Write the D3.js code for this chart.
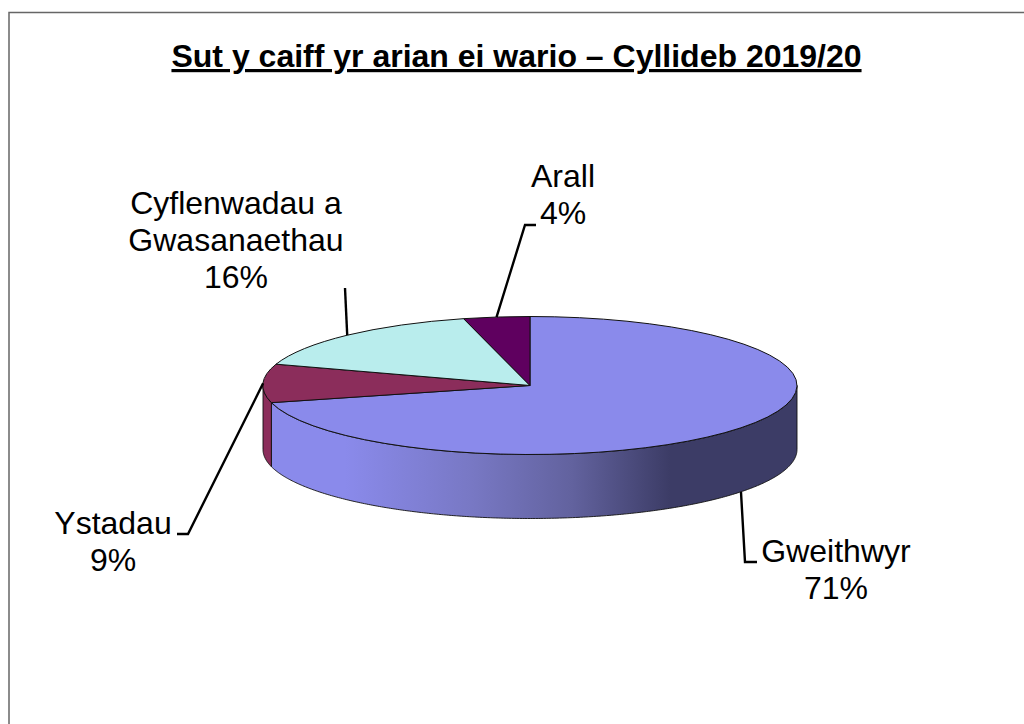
<!DOCTYPE html>
<html>
<head>
<meta charset="utf-8">
<script src="https://cdn.jsdelivr.net/npm/d3@7"></script>
<style>
  html, body { margin: 0; padding: 0; background: #fff; }
  text { font-family: "Liberation Sans", Arial, sans-serif; fill: #000; }
</style>
</head>
<body>
<div id="chart"></div>
<script>
// Chart values
const titleText = 'Sut y caiff yr arian ei wario – Cyllideb 2019/20';
const categories = ['Gweithwyr', 'Ystadau', 'Cyflenwadau a Gwasanaethau', 'Arall'];
const percents = [71, 9, 16, 4];
const labelLines = [['Gweithwyr', '71%'], ['Ystadau', '9%'], ['Cyflenwadau a', 'Gwasanaethau', '16%'], ['Arall', '4%']];
const topColors = ['#8a8aeb', '#8b2d5b', '#b9eded', '#5f005f'];

// Set sizes
const width = 1024;
const height = 724;
const pieCentre = { x: 530, y: 385.5 };
const radiusX = 267;
const radiusY = 69;
const depth = 64;
const labelSize = 32;
const lineStep = 37;

// Where each label sits and the bends of its leader line
const labelLayout = [
  { x: 836, y: 562, bends: [[745, 562], [757, 562]] },
  { x: 113, y: 534, bends: [[188, 534], [177, 534]] },
  { x: 236, y: 214, bends: [[345, 288]] },
  { x: 563, y: 187, bends: [[525, 225], [536, 225]] },
];

const svg = d3.select('#chart')
  .append('svg')
  .attr('width', width)
  .attr('height', height)
  .style('display', 'block');

// Sheet border, open on the right and at the bottom
svg.append('path')
  .attr('d', d3.line()([[9, height], [9, 12.5], [width, 12.5]]))
  .attr('fill', 'none')
  .attr('stroke', '#666')
  .attr('stroke-width', 1.5);

// Title
svg.append('text')
  .attr('x', 516.5)
  .attr('y', 67)
  .attr('text-anchor', 'middle')
  .attr('font-size', 32)
  .attr('font-weight', 'bold')
  .attr('text-decoration', 'underline')
  .text(titleText);

// Side wall shading, x runs from the pie centre
const shade = svg.append('defs')
  .append('linearGradient')
  .attr('id', 'wall-shade')
  .attr('gradientUnits', 'userSpaceOnUse')
  .attr('x1', -185)
  .attr('x2', 140)
  .attr('y1', 0)
  .attr('y2', 0);
shade.append('stop').attr('offset', 0).attr('stop-color', '#8a8aeb');
shade.append('stop').attr('offset', 0.39).attr('stop-color', '#7878c4');
shade.append('stop').attr('offset', 0.7).attr('stop-color', '#62629e');
shade.append('stop').attr('offset', 1).attr('stop-color', '#3c3c66');

const slices = d3.pie().sort(null)(percents);
const colour = d3.scaleOrdinal().domain(categories).range(topColors);

const pieG = svg.append('g')
  .attr('transform', `translate(${pieCentre.x},${pieCentre.y})`);

// Point on the top ellipse, angle clockwise from 12 o'clock
const rimX = (a) => radiusX * Math.sin(a);
const rimY = (a) => -radiusY * Math.cos(a);

// Wall of each slice, only the part facing the front
const wallArea = d3.area()
  .x((a) => rimX(a))
  .y0((a) => rimY(a))
  .y1((a) => rimY(a) + depth);

slices.forEach((s, i) => {
  const from = Math.max(s.startAngle, Math.PI / 2);
  const to = Math.min(s.endAngle, Math.PI * 1.5);
  if (from >= to) return;
  const angles = d3.range(from, to, 0.01).concat([to]);
  pieG.append('path')
    .attr('d', wallArea(angles))
    .attr('fill', i === 0 ? 'url(#wall-shade)' : colour(categories[i]))
    .attr('stroke', '#111')
    .attr('stroke-width', 0.9);
});

// Top face, a flat pie squashed into an ellipse
const arc = d3.arc().innerRadius(0).outerRadius(radiusX);
pieG.append('g')
  .attr('transform', `scale(1,${radiusY / radiusX})`)
  .selectAll('path')
  .data(slices)
  .join('path')
  .attr('d', arc)
  .attr('fill', (d, i) => colour(categories[i]))
  .attr('stroke', '#111')
  .attr('stroke-width', 1)
  .attr('vector-effect', 'non-scaling-stroke');

// Leader lines start on the rim at the middle of the slice
const leader = d3.line();
slices.forEach((s, i) => {
  const mid = (s.startAngle + s.endAngle) / 2;
  const front = Math.cos(mid) < 0 && Math.sin(mid) > -0.99;
  const start = [
    pieCentre.x + rimX(mid),
    pieCentre.y + rimY(mid) + (front ? depth : 0),
  ];
  svg.append('path')
    .attr('d', leader([start, ...labelLayout[i].bends]))
    .attr('fill', 'none')
    .attr('stroke', '#000')
    .attr('stroke-width', 2.4);
});

// Labels
labelLines.forEach((lines, i) => {
  const label = svg.append('text')
    .attr('text-anchor', 'middle')
    .attr('font-size', labelSize);
  lines.forEach((line, j) => {
    label.append('tspan')
      .attr('x', labelLayout[i].x)
      .attr('y', labelLayout[i].y + j * lineStep)
      .text(line);
  });
});
</script>
</body>
</html>
